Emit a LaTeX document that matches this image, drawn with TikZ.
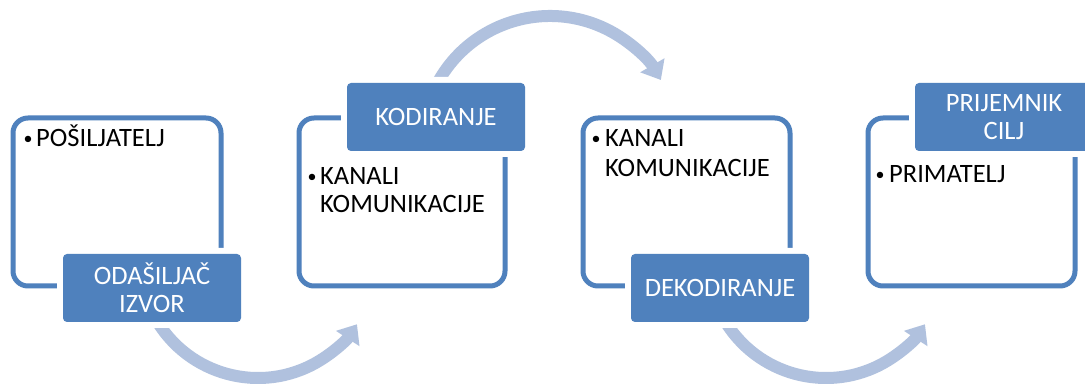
\documentclass[tikz,border=0pt]{standalone}
\usepackage{fontspec}
\setmainfont{Carlito}
\usetikzlibrary{arrows.meta}
\definecolor{accent}{RGB}{79,129,189}
\definecolor{arrowc}{RGB}{176,193,222}
\tikzset{
  frame/.style={draw=accent, line width=5pt, rounded corners=15pt},
  lab/.style={fill=accent, rounded corners=4pt, minimum width=178pt, minimum height=68pt,
    inner sep=0pt, text=white, align=center, font=\fontsize{26.5}{28}\selectfont,
    preaction={draw=white, line width=12pt}},
  curved/.style={draw=arrowc, line width=12pt, -{Triangle[width=27pt,length=17pt]}},
  txt/.style={anchor=base west, inner sep=0pt, font=\fontsize{26.5}{29}\selectfont},
  bul/.style={anchor=base, inner sep=0pt, font=\fontsize{18}{18}\selectfont}
}
\begin{document}
\begin{tikzpicture}[x=1pt,y=1pt]
\clip (0,0) rectangle (1085,388);
\fill[white] (0,0) rectangle (1085,388);
% curved arrows
\coordinate (c1) at (258,128);
\coordinate (c2) at (826,128);
\coordinate (c3) at (550,244);
\draw[curved] ([shift={(210:118)}]c1) arc[start angle=210, end angle=327, radius=118];
\draw[curved] ([shift={(210:118)}]c2) arc[start angle=210, end angle=327, radius=118];
\draw[curved] ([shift={(150:128)}]c3) arc[start angle=150, end angle=30, radius=128];
% frames
\draw[frame] (13,102) rectangle (221,270);
\draw[frame] (299,102) rectangle (505,270);
\draw[frame] (583,102) rectangle (790,270);
\draw[frame] (868,102) rectangle (1075,270);
% labels
\node[lab] (l1) at (152,100) {ODAŠILJAČ\\IZVOR};
\node[lab] (l2) at (436,271) {KODIRANJE};
\node[lab] (l3) at (720,100) {DEKODIRANJE};
\node[lab] (l4) at (1004,271) {PRIJEMNIK\\CILJ};
% bullet texts
\node[bul] (b1) at (28,243) {•};
\node[txt] (t1) at (36,241) {POŠILJATELJ};
\node[bul] (b2) at (312,205) {•};
\node[txt] (t2a) at (320,203) {KANALI};
\node[txt] (t2b) at (320,175) {KOMUNIKACIJE};
\node[bul] (b3) at (596,243) {•};
\node[txt] (t3a) at (605,241) {KANALI};
\node[txt] (t3b) at (605,211) {KOMUNIKACIJE};
\node[bul] (b4) at (880,207) {•};
\node[txt] (t4) at (889,205) {PRIMATELJ};
\end{tikzpicture}
\end{document}
